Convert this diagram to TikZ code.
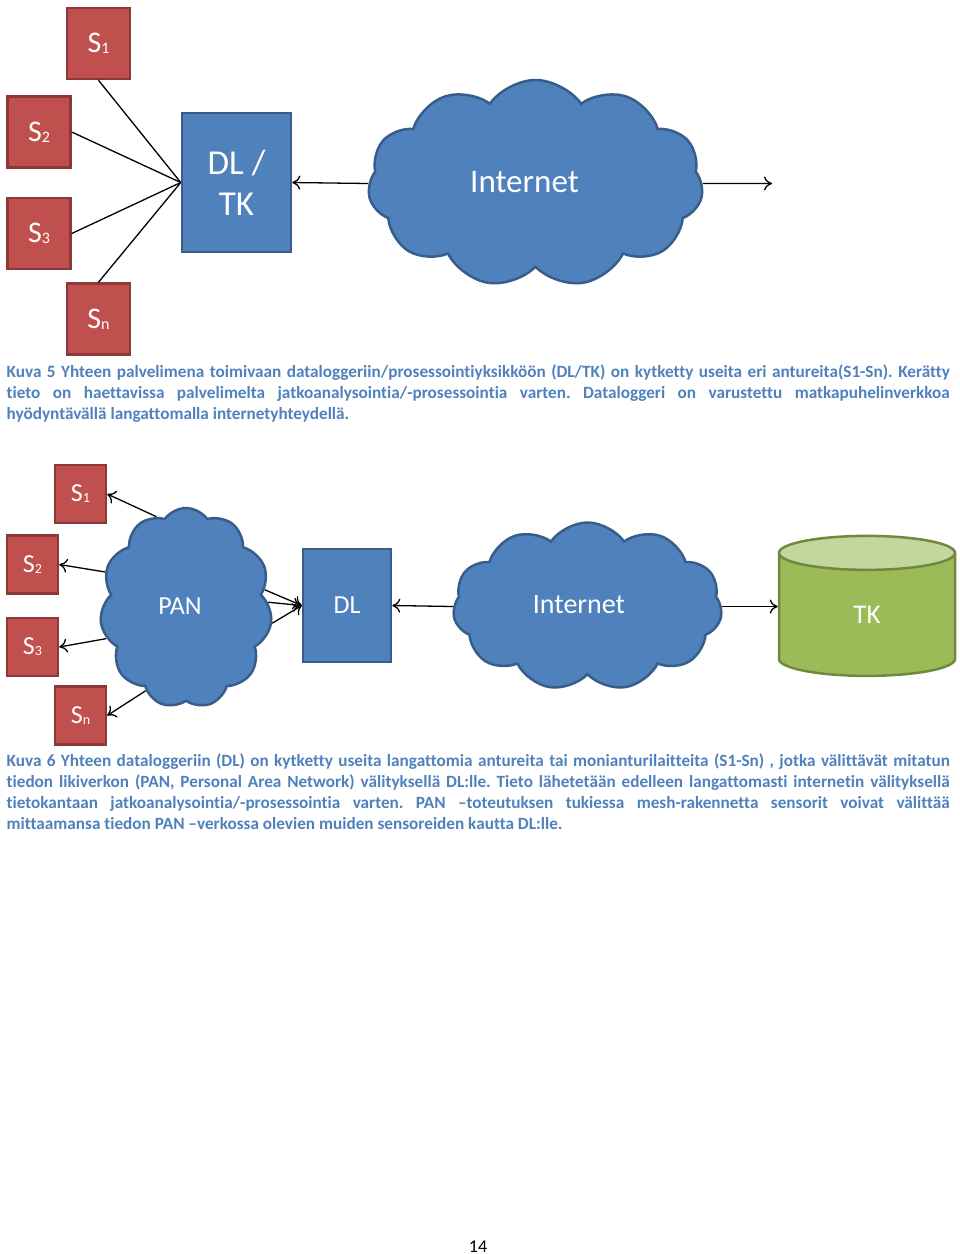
\documentclass[tikz,border=0pt]{standalone}
\usepackage{fontspec}
\setmainfont[Ligatures={NoCommon}]{Carlito}
\usetikzlibrary{shapes.symbols,shapes.geometric,arrows.meta}

\definecolor{boxblue}{HTML}{4F81BD}
\definecolor{blueline}{HTML}{385D8A}
\definecolor{sensorred}{HTML}{C0504D}
\definecolor{redline}{HTML}{8C3836}
\definecolor{storegreen}{HTML}{9BBB59}
\definecolor{storetop}{HTML}{C3D69B}
\definecolor{greenline}{HTML}{71893F}

\newcommand\sidx[2][16]{\raisebox{-1pt}{\fontsize{#1}{#1}\selectfont#2}}

\tikzset{
  sensor/.style={draw=redline, fill=sensorred, line width=2.5pt, inner sep=0pt,
    text=white, minimum width=63, minimum height=71, font=\fontsize{30}{36}\selectfont},
  smallsensor/.style={sensor, minimum width=51, minimum height=58, font=\fontsize{26}{30}\selectfont},
  logger/.style={draw=blueline, fill=boxblue, line width=2.5pt, inner sep=0pt, text=white, align=center},
  netcloud/.style={cloud, cloud puffs=11, cloud puff arc=110, cloud ignores aspect,
    draw=blueline, fill=boxblue, line width=2.5pt, inner sep=0pt, text=white},
  store/.style={cylinder, shape border rotate=90, aspect=1.25, draw=greenline,
    cylinder uses custom fill, cylinder body fill=storegreen, cylinder end fill=storetop,
    line width=2.5pt, inner sep=0pt, text=white},
  caption/.style={anchor=north west, inner sep=0pt, text width=943, align=justify,
    text=boxblue, font=\fontsize{17.2}{21}\selectfont\bfseries\frenchspacing}
}

\begin{document}
\begin{tikzpicture}[x=1pt, y=-1pt, line width=1.3pt, >={To[length=8pt,width=14pt]}]
  \path[fill=white,use as bounding box] (0,0) rectangle (960,1254);

  % Kuva 5
  \node[sensor] (s1) at (98.5,43.5) {S\sidx{1}};
  \node[sensor] (s2) at (39,132) {S\sidx{2}};
  \node[sensor] (s3) at (39,233.5) {S\sidx{3}};
  \node[sensor] (sn) at (98.5,319) {S\sidx{n}};
  \node[logger, minimum width=109, minimum height=139, font=\fontsize{35}{41}\selectfont]
    (dltk) at (236.5,182.5) {DL /\\TK};
  \node[netcloud, minimum width=335, minimum height=207, font=\fontsize{33}{36}\selectfont]
    (inet) at (535.5,183.5) {\raisebox{4pt}{Internet}\hspace*{22pt}};
  \coordinate (out) at (772,183.5);

  \draw (s1.south) -- (dltk.west);
  \draw (s2.east) -- (dltk.west);
  \draw (s3.east) -- (dltk.west);
  \draw (sn.north) -- (dltk.west);
  \draw[->] (inet.west) -- (dltk.east);
  \draw[->] (inet.east) -- (out);

  \node[caption] (cap5) at (6,364.5) {\hyphenpenalty=10000 \exhyphenpenalty=10000
    Kuva 5 Yhteen palvelimena toimivaan dataloggeriin/prosessointiyksikköön (DL/TK) on kytketty useita eri antureita(S1-Sn). Kerätty\linebreak
    tieto on haettavissa palvelimelta jatkoanalysointia/-prosessointia varten. Dataloggeri on varustettu matkapuhelinverkkoa\linebreak
    hyödyntävällä langattomalla internetyhteydellä.};

  % Kuva 6
  \node[smallsensor] (s1b) at (80.5,494) {S\sidx[14]{1}};
  \node[smallsensor] (s2b) at (32.5,564.5) {S\sidx[14]{2}};
  \node[smallsensor] (s3b) at (32.5,647) {S\sidx[14]{3}};
  \node[smallsensor] (snb) at (80.5,715.5) {S\sidx[14]{n}};
  \node[netcloud, minimum width=172, minimum height=200, font=\fontsize{26}{30}\selectfont]
    (pan) at (186,608) {\raisebox{4pt}{PAN}\hspace*{12pt}};
  \node[logger, minimum width=88, minimum height=113, font=\fontsize{26}{30}\selectfont]
    (dl) at (347,605.5) {DL};
  \node[netcloud, minimum width=269, minimum height=168, font=\fontsize{28}{32}\selectfont]
    (inet2) at (587.5,606.5) {\raisebox{4pt}{Internet}\hspace*{17pt}};
  \node[store, minimum width=176, minimum height=140, font=\fontsize{27}{30}\selectfont]
    (tk) at (867,615) {TK};

  \draw[->] (pan.108) -- (s1b.east);
  \draw[->] (pan.156) -- (s2b.east);
  \draw[->] (pan.201) -- (s3b.east);
  \draw[->] (pan.244) -- (snb.east);
  \draw[->] (pan.13) -- (dl.west);
  \draw[->] (pan.4) -- (dl.west);
  \draw[->] (pan.-10) -- (dl.west);
  \draw[->] (inet2.west) -- (dl.east);
  \draw[->] (inet2.east) -- (tk.west |- inet2.east);

  \node[caption] (cap6) at (6,753.5) {\hyphenpenalty=10000 \exhyphenpenalty=10000
    Kuva 6 Yhteen dataloggeriin (DL) on kytketty useita langattomia antureita tai monianturilaitteita (S1-Sn) , jotka välittävät mitatun\linebreak
    tiedon likiverkon (PAN, Personal Area Network) välityksellä DL:lle. Tieto lähetetään edelleen langattomasti internetin välityksellä\linebreak
    tietokantaan jatkoanalysointia/-prosessointia varten. PAN –toteutuksen tukiessa mesh-rakennetta sensorit voivat välittää\linebreak
    mittaamansa tiedon PAN –verkossa olevien muiden sensoreiden kautta DL:lle.};

  \node[anchor=base, inner sep=0pt, font=\fontsize{18}{20}\selectfont] (pageno) at (478,1252) {14};
\end{tikzpicture}
\end{document}
